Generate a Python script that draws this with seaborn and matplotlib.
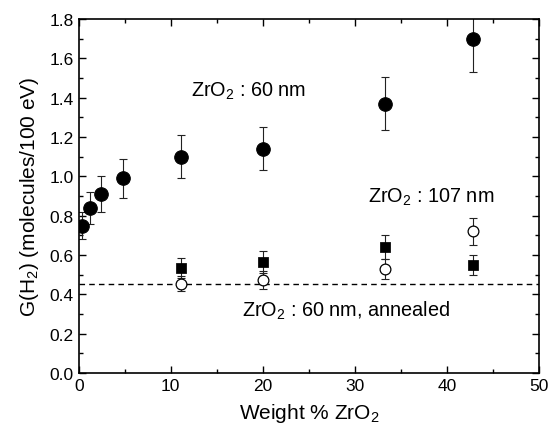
import numpy as np
import pandas as pd
import matplotlib as mpl
from matplotlib import pyplot as plt
from matplotlib.ticker import MultipleLocator
import seaborn as sns

# Data
# ZrO2 : 60 nm (filled circles)
wt_60 = [0.3, 1.2, 2.4, 4.8, 11.1, 20.0, 33.3, 42.8]
g_60 = [0.75, 0.84, 0.91, 0.99, 1.10, 1.14, 1.37, 1.70]
err_60 = [0.07, 0.08, 0.09, 0.10, 0.11, 0.11, 0.135, 0.17]

# ZrO2 : 107 nm (filled squares)
wt_107 = [11.1, 20.0, 33.3, 42.8]
g_107 = [0.535, 0.565, 0.64, 0.55]
err_107 = [0.05, 0.055, 0.06, 0.05]

# ZrO2 : 60 nm, annealed (open circles)
wt_ann = [11.1, 20.0, 33.3, 42.8]
g_ann = [0.455, 0.475, 0.53, 0.72]
err_ann = [0.04, 0.045, 0.05, 0.07]

# Reference level (dashed line)
g_ref = 0.455

sns.set_style("ticks", {'axes.edgecolor': 'black', 'text.color': 'black',
                        'axes.labelcolor': 'black', 'xtick.color': 'black',
                        'ytick.color': 'black'})
plt.rcParams['font.family'] = ['Liberation Sans', 'DejaVu Sans']
mpl.rc('mathtext', fontset='custom', rm='Liberation Sans', it='Liberation Sans:italic')

df_60 = pd.DataFrame({'wt': wt_60, 'g': g_60})
df_107 = pd.DataFrame({'wt': wt_107, 'g': g_107})
df_ann = pd.DataFrame({'wt': wt_ann, 'g': g_ann})

fig = plt.figure(figsize=(5.51, 4.35), dpi=100)
ax = fig.add_axes([0.143, 0.140, 0.835, 0.814])

# Error bars
eb_kw = dict(fmt='none', ecolor='#222222', elinewidth=0.8, capsize=3, capthick=0.8, zorder=2)
ax.errorbar(wt_60, g_60, yerr=err_60, **eb_kw)
ax.errorbar(wt_107, g_107, yerr=err_107, **eb_kw)
ax.errorbar(wt_ann, g_ann, yerr=err_ann, **eb_kw)

# Markers
sns.scatterplot(data=df_60, x='wt', y='g', ax=ax, marker='o', s=95,
                color='black', edgecolor='black', zorder=3)
sns.scatterplot(data=df_107, x='wt', y='g', ax=ax, marker='s', s=45,
                color='black', edgecolor='black', zorder=3)
sns.scatterplot(data=df_ann, x='wt', y='g', ax=ax, marker='o', s=60,
                color='white', edgecolor='black', linewidth=0.9, zorder=3)

ax.axhline(g_ref, color='black', linestyle=(0, (4, 3)), linewidth=1.0, zorder=1)

ax.set_xlim(0, 50)
ax.set_ylim(0, 1.8)
ax.xaxis.set_major_locator(MultipleLocator(10))
ax.xaxis.set_minor_locator(MultipleLocator(5))
ax.yaxis.set_major_locator(MultipleLocator(0.2))
ax.yaxis.set_minor_locator(MultipleLocator(0.1))
ax.yaxis.set_major_formatter(mpl.ticker.FormatStrFormatter('%.1f'))
ax.tick_params(which='both', direction='in', top=True, right=True, labelsize=12.5,
               width=1.0, colors='black')
ax.tick_params(which='major', length=5)
ax.tick_params(which='minor', length=3)
for s in ax.spines.values():
    s.set_linewidth(1.2)
    s.set_color('black')
    s.set_visible(True)

ax.set_xlabel('Weight % ZrO$_2$', fontsize=15, labelpad=6, color='black')
ax.set_ylabel('G(H$_2$) (molecules/100 eV)', fontsize=15, labelpad=6, color='black')

ax.text(12.2, 1.41, 'ZrO$_2$ : 60 nm', fontsize=14.3, va='baseline', color='black')
ax.text(31.4, 0.87, 'ZrO$_2$ : 107 nm', fontsize=14.3, va='baseline', color='black')
ax.text(17.7, 0.29, 'ZrO$_2$ : 60 nm, annealed', fontsize=14.3, va='baseline', color='black')

plt.savefig('out.png', dpi=100)
